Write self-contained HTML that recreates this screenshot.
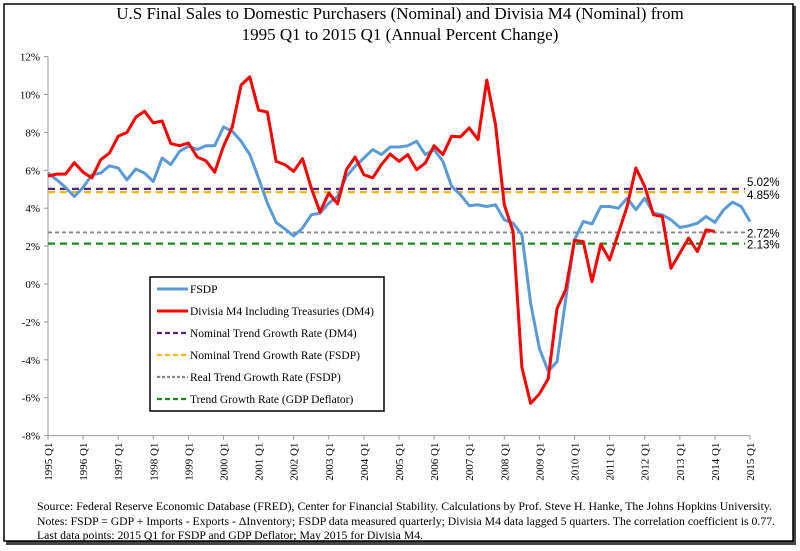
<!DOCTYPE html>
<html><head><meta charset="utf-8"><style>
html,body{margin:0;padding:0;background:#fff;}
svg{display:block;font-family:"Liberation Serif",serif;}
</style></head><body>
<svg id="chart" width="800" height="551" viewBox="0 0 800 551">
<rect x="6" y="6" width="790" height="539" fill="#444"/>
<rect x="4" y="4" width="789" height="537" fill="#fff" stroke="#000" stroke-width="1.5"/>
<text x="400" y="19" text-anchor="middle" font-size="17">U.S Final Sales to Domestic Purchasers (Nominal) and Divisia M4 (Nominal) from</text>
<text x="400" y="40" text-anchor="middle" font-size="17">1995 Q1 to 2015 Q1 (Annual Percent Change)</text>
<g id="axes"></g>
<g id="trends"></g>
<g id="series"></g>
<g id="legend"></g>
<text x="37" y="510" font-size="11.5" textLength="735" lengthAdjust="spacingAndGlyphs">Source: Federal Reserve Economic Database (FRED), Center for Financial Stability. Calculations by Prof. Steve H. Hanke, The Johns Hopkins University.</text>
<text x="37" y="525" font-size="11.5" textLength="738" lengthAdjust="spacingAndGlyphs">Notes: FSDP = GDP + Imports - Exports - ΔInventory; FSDP data measured quarterly; Divisia M4 data lagged 5 quarters. The correlation coefficient is 0.77.</text>
<text x="37" y="539" font-size="11.5" textLength="386" lengthAdjust="spacingAndGlyphs">Last data points: 2015 Q1 for FSDP and GDP Deflator; May 2015 for Divisia M4.</text>
</svg>
<script>
const yTicks = [12,10,8,6,4,2,0,-2,-4,-6,-8];
const years = [1995,1996,1997,1998,1999,2000,2001,2002,2003,2004,2005,2006,2007,2008,2009,2010,2011,2012,2013,2014,2015];
const fsdp = [5.85,5.5,5.1,4.62,5.1,5.77,5.85,6.24,6.12,5.5,6.07,5.85,5.41,6.65,6.3,7.0,7.27,7.1,7.3,7.3,8.29,8.06,7.53,6.83,5.59,4.27,3.25,2.91,2.54,2.95,3.65,3.74,4.27,4.62,5.68,6.21,6.65,7.09,6.83,7.23,7.23,7.3,7.53,6.83,7.09,6.47,5.15,4.71,4.13,4.18,4.09,4.18,3.39,3.21,2.6,-1.0,-3.4,-4.6,-4.1,-0.8,2.33,3.3,3.17,4.09,4.09,4.0,4.53,3.92,4.53,3.74,3.65,3.39,2.98,3.07,3.21,3.56,3.25,3.92,4.32,4.09,3.3];
const dm4 = [5.7,5.8,5.8,6.4,5.9,5.6,6.56,6.9,7.8,8.0,8.8,9.12,8.5,8.6,7.41,7.3,7.44,6.7,6.5,5.9,7.27,8.29,10.5,10.93,9.17,9.07,6.47,6.3,5.94,6.61,5.06,3.8,4.8,4.23,6.03,6.7,5.77,5.6,6.3,6.86,6.47,6.83,6.03,6.38,7.3,6.83,7.8,7.76,8.24,7.62,10.76,8.41,4.18,2.77,-4.4,-6.3,-5.8,-5.0,-1.3,-0.3,2.3,2.24,0.12,2.1,1.27,2.68,4.09,6.12,5.15,3.65,3.56,0.83,1.62,2.42,1.71,2.86,2.77];
const trendValues = [5.02,4.85,2.72,2.13];
const trendLabels = ["5.02%","4.85%","2.72%","2.13%"];
const trendColors = ["#5b1f7a","#f5b800","#888888","#1a8a1a"];
const trendNames = ["trend-dm4","trend-fsdp-nominal","trend-fsdp-real","trend-gdp-deflator"];
const legendLabels = ["FSDP","Divisia M4 Including Treasuries (DM4)","Nominal Trend Growth Rate (DM4)","Nominal Trend Growth Rate (FSDP)","Real Trend Growth Rate (FSDP)","Trend Growth Rate (GDP Deflator)"];

const NS="http://www.w3.org/2000/svg";
const X0=48, X1=750, Y0=284, PPU=18.95;
const xq = q => X0 + (X1-X0)*q/80;
const yv = v => Y0 - v*PPU;
function mk(tag, attrs, parent){const e=document.createElementNS(NS,tag);for(const k in attrs)e.setAttribute(k,attrs[k]);parent.appendChild(e);return e;}
const axes=document.getElementById('axes');
let yl=mk('line',{x1:X0,y1:yv(12),x2:X0,y2:yv(-8),stroke:'#999','stroke-width':1},axes);


let xl=mk('line',{x1:X0,y1:yv(-8),x2:X1,y2:yv(-8),stroke:'#999','stroke-width':1},axes);


yTicks.forEach(t=>{
  const tk=mk('line',{x1:X0-4,y1:yv(t),x2:X0,y2:yv(t),stroke:'#999'},axes);
  
  
  const tx=mk('text',{x:X0-8,y:yv(t)+4,'text-anchor':'end','font-size':11},axes);
  tx.textContent=t+'%';
  
  
});
years.forEach((yr,i)=>{
  const x=xq(i*4);
  const tk=mk('line',{x1:x,y1:yv(-8),x2:x,y2:yv(-8)+4,stroke:'#999'},axes);
  
  
  const tx=mk('text',{x:0,y:0,'text-anchor':'end','font-size':11,transform:`translate(${x+4},${yv(-8)+7}) rotate(-90)`},axes);
  tx.textContent=yr+' Q1';
  
  
});
const trends=document.getElementById('trends');
trendValues.forEach((v,i)=>{
  const ln=mk('line',{x1:X0,y1:yv(v),x2:745,y2:yv(v),stroke:trendColors[i],'stroke-width':i==2?1.8:2.2,'stroke-dasharray':i==2?'4,3':'7,5'},trends);
  
  
  const off=[-3,7,5,5][i];
  const tx=mk('text',{x:747,y:yv(v)+off,'font-size':11.5,'font-family':'"Liberation Sans",sans-serif'},trends);
  tx.textContent=trendLabels[i];
  
  
});
const series=document.getElementById('series');
function pts(arr){return arr.map((v,i)=>xq(i).toFixed(1)+','+yv(v).toFixed(1)).join(' ');}
const p1=mk('polyline',{points:pts(fsdp),fill:'none',stroke:'#5b9bd5','stroke-width':3,'stroke-linejoin':'round'},series);


const p2=mk('polyline',{points:pts(dm4),fill:'none',stroke:'#ff0000','stroke-width':3,'stroke-linejoin':'round'},series);


const lg=document.getElementById('legend');
const box=mk('rect',{x:150,y:277,width:234,height:134,fill:'#fff',stroke:'#000','stroke-width':1.5},lg);


const lcol=['#5b9bd5','#ff0000'].concat(trendColors);
legendLabels.forEach((lab,i)=>{
  const y=289+i*22;
  const dash=i<2?null:(i==4?'3,2':'5,3');
  const a={x1:157,y1:y,x2:188,y2:y,stroke:lcol[i],'stroke-width':i<2?3:2.2};
  if(dash)a['stroke-dasharray']=dash;
  const l=mk('line',a,lg);
  
  
  const t=mk('text',{x:190,y:y+4,'font-size':11.5},lg);
  t.textContent=lab;
  
  
});
</script>
</body></html>
